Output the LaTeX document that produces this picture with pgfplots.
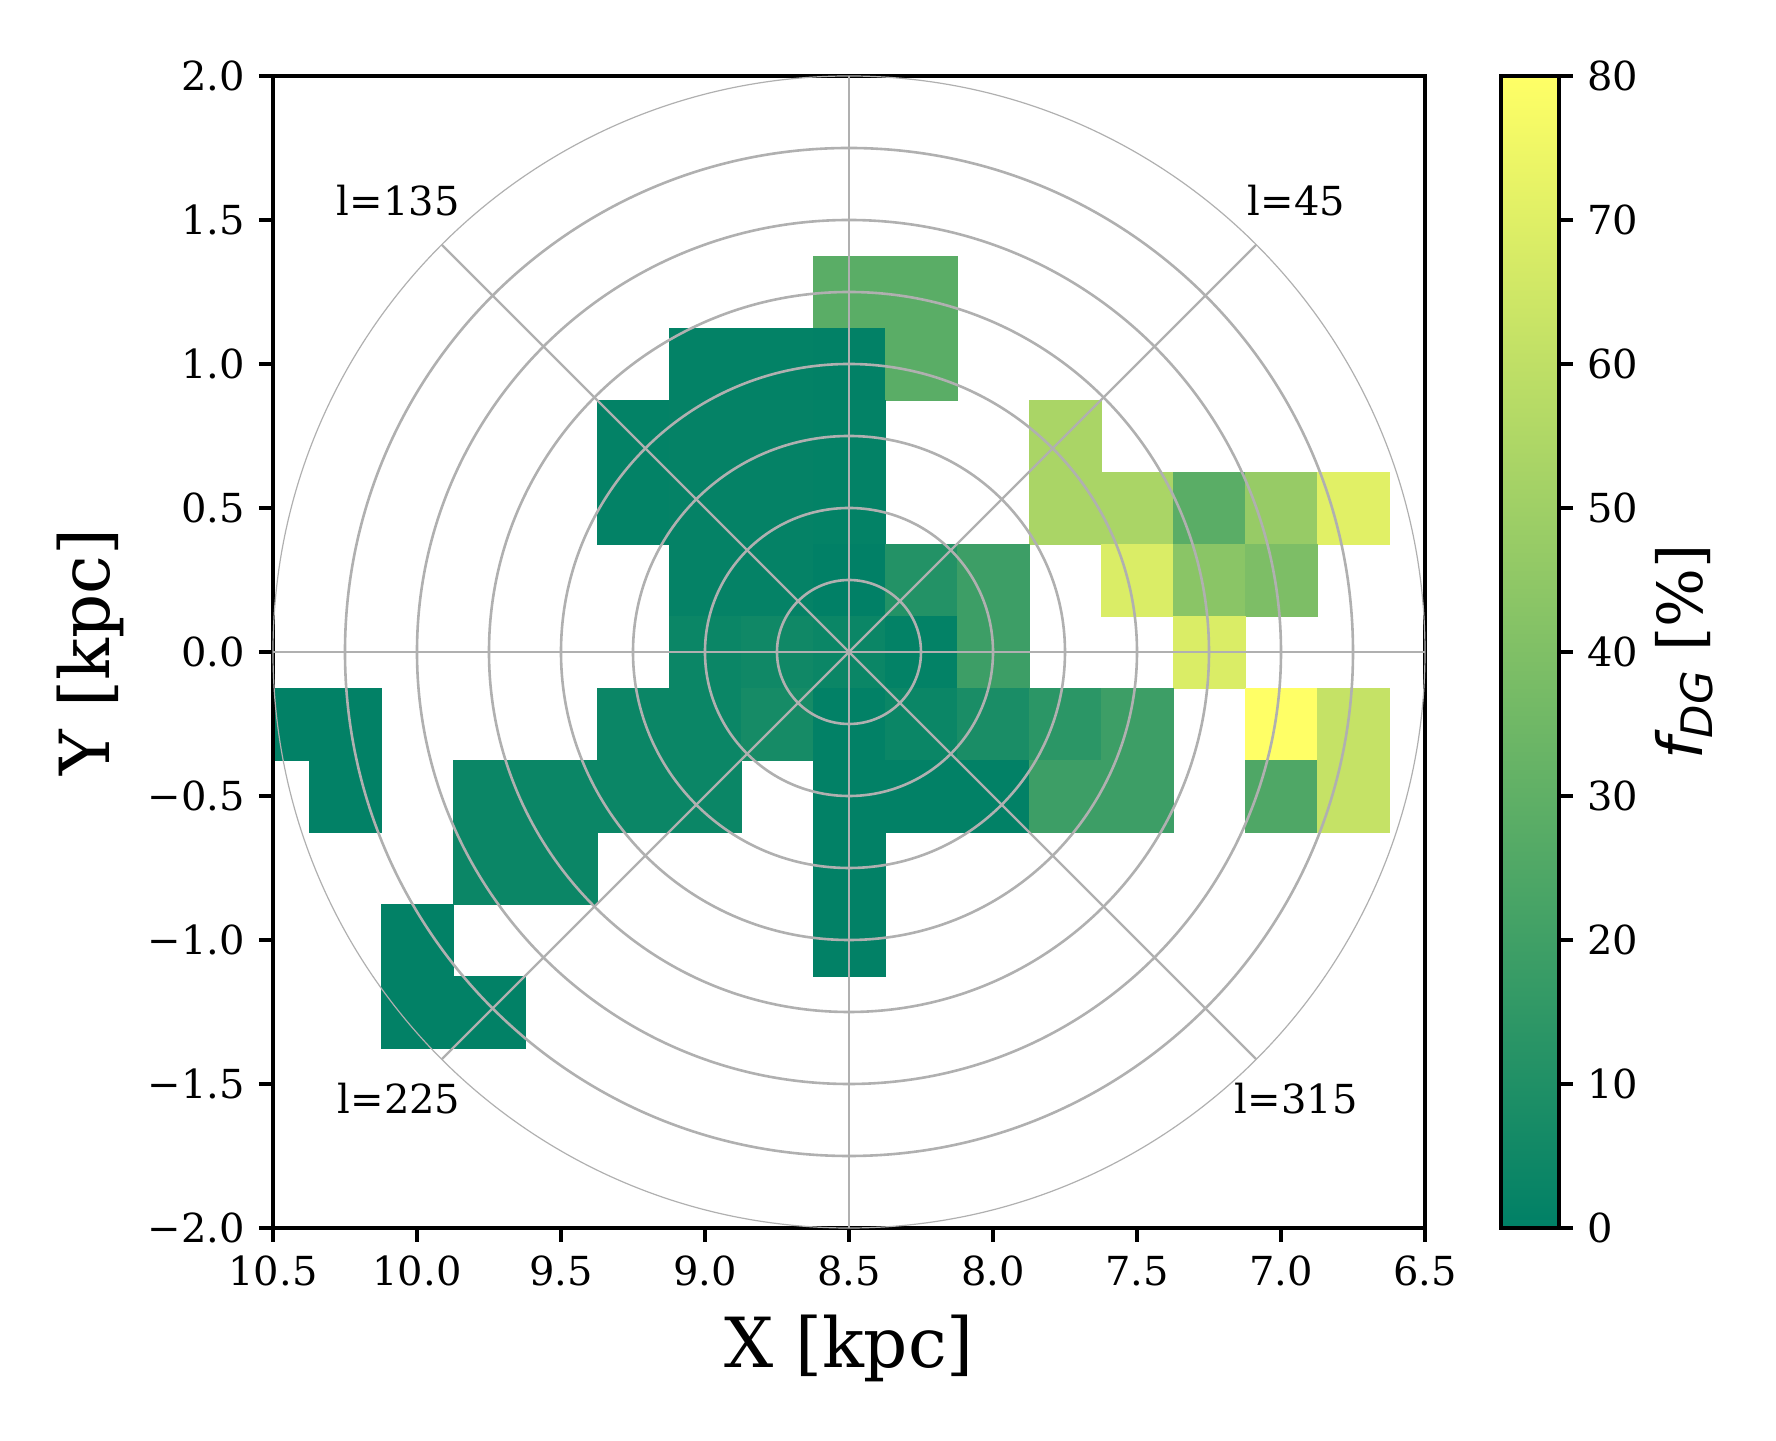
\documentclass[border=0pt]{standalone}
\usepackage{fontspec}
\setmainfont{DejaVu Serif}
\newfontfamily\djsans{DejaVu Sans}
\usepackage{pgfplots}
\pgfplotsset{compat=1.18}
\definecolor{gridgray}{HTML}{B0B0B0}
\pgfplotsset{colormap={summer}{rgb255=(0,128,102) rgb255=(255,255,102)}}

\pgfplotstableread{
x y v
8.5 1.25 28
8.25 1.25 28
9.0 1.0 1
8.75 1.0 1
8.5 1.0 0.5
8.25 1.0 28
9.25 0.75 1
9.0 0.75 1.5
8.75 0.75 1.5
8.5 0.75 1
7.75 0.75 53
9.25 0.5 1
9.0 0.5 1.5
8.75 0.5 1.5
8.5 0.5 1
7.75 0.5 53
7.5 0.5 53
7.25 0.5 28
7.0 0.5 47
6.75 0.5 70
9.0 0.25 1.5
8.75 0.25 1.5
8.5 0.25 0.3
8.25 0.25 11
8.0 0.25 19
7.5 0.25 68
7.25 0.25 43
7.0 0.25 39
9.0 0 3.5
8.75 0 5
8.5 0 3.5
8.25 0 1
8.0 0 19
7.25 0 68
10.5 -0.25 0.5
10.25 -0.25 0.5
9.25 -0.25 3.5
9.0 -0.25 3.5
8.75 -0.25 7
8.5 -0.25 0.5
8.25 -0.25 3.5
8.0 -0.25 8
7.75 -0.25 13.5
7.5 -0.25 19
7.0 -0.25 80
6.75 -0.25 61.5
10.25 -0.5 0.5
9.75 -0.5 3.5
9.5 -0.5 3.5
9.25 -0.5 3.5
9.0 -0.5 3.5
8.5 -0.5 0.5
8.25 -0.5 0.5
8.0 -0.5 0.5
7.75 -0.5 19
7.5 -0.5 19
7.0 -0.5 24.5
6.75 -0.5 61.5
9.75 -0.75 3.5
9.5 -0.75 3.5
8.5 -0.75 0.5
10.0 -1.0 0.5
8.5 -1.0 0.5
10.0 -1.25 0.5
9.75 -1.25 0.5
}\cells

\begin{document}
\begin{tikzpicture}
\begin{axis}[
  set layers,
  at={(0,0)}, anchor=south west,
  scale only axis, width=288pt, height=288pt,
  xmin=6.5, xmax=10.5, ymin=-2, ymax=2,
  x dir=reverse,
  axis on top,
  clip mode=individual, clip marker paths=true,
  axis line style={line width=0.8pt},
  tick pos=left, tick align=outside,
  major tick length=3.5pt,
  every tick/.style={black, line width=0.8pt},
  xtick={6.5,7,7.5,8,8.5,9,9.5,10,10.5},
  xticklabels={6.5,7.0,7.5,8.0,8.5,9.0,9.5,10.0,10.5},
  ytick={-2,-1.5,-1,-0.5,0,0.5,1,1.5,2},
  yticklabels={−2.0,−1.5,−1.0,−0.5,0.0,0.5,1.0,1.5,2.0},
  tick label style={font=\fontsize{10}{12}\selectfont},
  xlabel={X [kpc]}, ylabel={Y [kpc]},
  label style={font=\fontsize{17.28}{20}\selectfont},
  xlabel style={at={(axis description cs:0.5,-0.1215)}, anchor=base},
  ylabel style={at={(axis description cs:-0.1415,0.5)}, anchor=base},
  colormap name=summer,
  point meta min=0, point meta max=80,
  colorbar,
  colorbar style={
    at={(parent axis.north east)}, anchor=north west, xshift=10.46pt,
    scale only axis, width=14.5pt, height=288pt,
    ytick={0,10,20,30,40,50,60,70,80},
    yticklabels={0,10,20,30,40,50,60,70,80},
    ytick pos=right, yticklabel pos=right,
    tick align=outside,
    major tick length=3.5pt,
    axis line style={line width=0.8pt},
    every tick/.style={black, line width=0.8pt},
    tick label style={font=\fontsize{10}{12}\selectfont},
    ylabel={{\djsans\itshape f\raisebox{-2.5pt}{\fontsize{10.85}{12}\selectfont DG}} [\%]},
    every axis y label/.style={at={(axis description cs:3.48,0.5)}, anchor=base, rotate=90, font=\fontsize{15.5}{18}\selectfont},
  },
]
\addplot[scatter, only marks, mark=square*, mark size=9pt, scatter src=explicit,
  scatter/use mapped color={draw=mapped color, fill=mapped color},
  mark options={line width=0.1pt}]
  table[x=x, y=y, meta=v]{\cells};

\begin{pgfonlayer}{axis foreground}
\draw[gridgray, line width=0.65pt] (axis cs:8.5,0) circle[radius=18pt];
\draw[gridgray, line width=0.65pt] (axis cs:8.5,0) circle[radius=36pt];
\draw[gridgray, line width=0.65pt] (axis cs:8.5,0) circle[radius=54pt];
\draw[gridgray, line width=0.65pt] (axis cs:8.5,0) circle[radius=72pt];
\draw[gridgray, line width=0.65pt] (axis cs:8.5,0) circle[radius=90pt];
\draw[gridgray, line width=0.65pt] (axis cs:8.5,0) circle[radius=108pt];
\draw[gridgray, line width=0.65pt] (axis cs:8.5,0) circle[radius=126pt];
\draw[gridgray, line width=0.3pt] (axis cs:8.5,0) circle[radius=144pt];
\draw[gridgray, line width=0.6pt] (axis cs:8.5,0) -- ++(0:144pt);
\draw[gridgray, line width=0.6pt] (axis cs:8.5,0) -- ++(45:144pt);
\draw[gridgray, line width=0.6pt] (axis cs:8.5,0) -- ++(90:144pt);
\draw[gridgray, line width=0.6pt] (axis cs:8.5,0) -- ++(135:144pt);
\draw[gridgray, line width=0.6pt] (axis cs:8.5,0) -- ++(180:144pt);
\draw[gridgray, line width=0.6pt] (axis cs:8.5,0) -- ++(225:144pt);
\draw[gridgray, line width=0.6pt] (axis cs:8.5,0) -- ++(270:144pt);
\draw[gridgray, line width=0.6pt] (axis cs:8.5,0) -- ++(315:144pt);
\node[anchor=base west, inner sep=0pt, font=\fontsize{10}{12}\selectfont] at (axis cs:10.281,1.514) {l=135};
\node[anchor=base west, inner sep=0pt, font=\fontsize{10}{12}\selectfont] at (axis cs:7.118,1.517) {l=45};
\node[anchor=base west, inner sep=0pt, font=\fontsize{10}{12}\selectfont] at (axis cs:10.278,-1.604) {l=225};
\node[anchor=base west, inner sep=0pt, font=\fontsize{10}{12}\selectfont] at (axis cs:7.163,-1.604) {l=315};
\end{pgfonlayer}
\end{axis}
\pgfresetboundingbox
\path[use as bounding box] (-68.25pt,-53.25pt) rectangle (375.75pt,307pt);
\end{tikzpicture}
\end{document}
